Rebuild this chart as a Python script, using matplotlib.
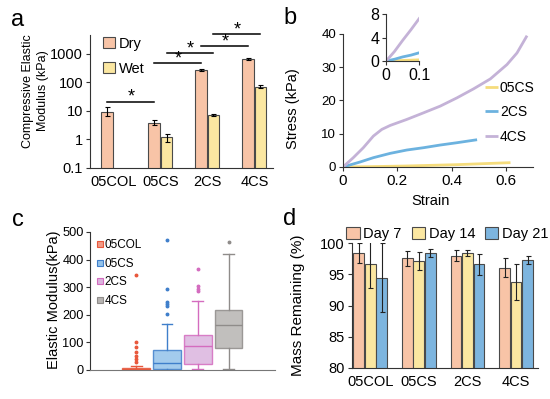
import matplotlib

matplotlib.use("Agg")
import matplotlib.pyplot as plt
import numpy as np
from matplotlib.lines import Line2D
from matplotlib.ticker import FuncFormatter

plt.rcParams["font.family"] = ["Liberation Sans", "DejaVu Sans"]
plt.rcParams["axes.linewidth"] = 0.8

GROUPS = ["05COL", "05CS", "2CS", "4CS"]

# --- panel a: compressive elastic modulus (kPa), log axis ---
DRY_MODULUS = [9.5, 3.9, 280, 680]
DRY_ERR_LO = [2.7, 0.6, 20, 40]
DRY_ERR_HI = [4.0, 0.9, 20, 40]
WET_MODULUS = [np.nan, 1.2, 7.3, 70]
WET_ERR_LO = [0, 0.4, 0.4, 8]
WET_ERR_HI = [0, 0.4, 0.6, 10]
# ((group, series), (group, series), bracket height in kPa); series 0 = dry, 1 = wet
SIG_BRACKETS = [
    ((0, 0), (1, 0), 21),
    ((1, 0), (2, 0), 480),
    ((1, 1), (2, 1), 1080),
    ((2, 0), (3, 0), 1900),
    ((2, 1), (3, 1), 5000),
]

# --- panel b: stress-strain curves ---
STRAIN_05CS = [0, 0.1, 0.235, 0.42, 0.617]
STRESS_05CS = [0, 0.1, 0.3, 0.7, 1.3]
STRAIN_2CS = [0, 0.063, 0.112, 0.174, 0.235, 0.297, 0.358, 0.42, 0.494]
STRESS_2CS = [0, 1.5, 2.8, 4.1, 5.1, 5.8, 6.6, 7.3, 8.2]
STRAIN_4CS = [0, 0.038, 0.075, 0.112, 0.143, 0.174, 0.235, 0.297, 0.358, 0.42,
              0.481, 0.543, 0.604, 0.641, 0.678]
STRESS_4CS = [0, 2.8, 5.8, 9.3, 11.3, 12.5, 14.3, 16.3, 18.3, 20.8,
              23.5, 26.5, 30.8, 34.3, 39.5]
INSET_STRAIN = [0, 0.025, 0.05, 0.075, 0.1]
INSET_05CS = [0, 0.05, 0.1, 0.15, 0.2]
INSET_2CS = [0, 0.3, 0.7, 1.0, 1.4]
INSET_4CS = [0, 1.6, 3.5, 5.3, 7.2]

# --- panel c: elastic modulus distributions (kPa) ---
BOX_Q1 = [0.5, 4, 22, 79]
BOX_MED = [3, 25, 87, 163]
BOX_Q3 = [9, 73, 128, 218]
BOX_WHISLO = [0, 0, 3, 3]
BOX_WHISHI = [16, 167, 249, 419]
BOX_FLIERS = [
    [28, 40, 52, 64, 85, 100, 343],
    [204, 230, 240, 246, 294, 472],
    [286, 295, 304, 364],
    [464],
]

# --- panel d: mass remaining (%) ---
DAY7 = [98.5, 97.6, 98.0, 96.1]
DAY7_ERR = [1.6, 1.2, 0.85, 1.55]
DAY14 = [96.6, 97.2, 98.4, 93.8]
DAY14_ERR = [3.85, 1.45, 0.5, 2.9]
DAY21 = [94.5, 98.4, 96.6, 97.3]
DAY21_ERR = [5.5, 0.65, 1.7, 0.7]

PEACH = "#f8c4a7"
PALE_YELLOW = "#fbe7a1"
SKY = "#7db5df"
EDGE = "#4a4a4a"
BOX_EDGE = ["#e8583c", "#3f7fcb", "#d46cbf", "#8f8c8a"]
BOX_FACE = ["#f29a86", "#93c2ea", "#dbb4de", "#b7b4b2"]


def style_axes(ax):
    for side in ("top", "right"):
        ax.spines[side].set_visible(False)
    for side in ("left", "bottom"):
        ax.spines[side].set_color("#333333")
    ax.tick_params(direction="out", length=3, width=0.8, color="#333333", pad=2)


def plot_modulus(ax):
    x = np.arange(len(GROUPS))
    width, offset = 0.25, 0.13
    err_kw = dict(elinewidth=0.8, capsize=1.8, capthick=0.8, ecolor="black")
    ax.bar(x - offset, DRY_MODULUS, width, color=PEACH, edgecolor=EDGE, linewidth=0.8,
           yerr=[DRY_ERR_LO, DRY_ERR_HI], error_kw=err_kw, label="Dry")
    ax.bar(x + offset, WET_MODULUS, width, color=PALE_YELLOW, edgecolor=EDGE,
           linewidth=0.8, yerr=[WET_ERR_LO, WET_ERR_HI], error_kw=err_kw, label="Wet")
    ax.set_yscale("log")
    ax.set_ylim(0.1, 4600)
    ax.set_xlim(-0.5, 3.4)
    ax.set_yticks([0.1, 1, 10, 100, 1000])
    ax.yaxis.set_major_formatter(FuncFormatter(lambda v, _: f"{v:g}"))
    ax.minorticks_off()
    ax.set_xticks(x)
    ax.set_xticklabels(GROUPS)
    style_axes(ax)
    ax.tick_params(axis="x", length=0, pad=5)
    ax.tick_params(labelsize=10.5)

    for (g1, s1), (g2, s2), height in SIG_BRACKETS:
        x1 = g1 + (offset if s1 else -offset)
        x2 = g2 + (offset if s2 else -offset)
        ax.plot([x1, x2], [height, height], color="black", lw=1.1, clip_on=False)
        ax.annotate("*", ((x1 + x2) / 2, height), xytext=(0, -3),
                    textcoords="offset points", ha="center", va="bottom",
                    fontsize=13, annotation_clip=False)

    ax.set_ylabel("Compressive Elastic\nModulus (kPa)", fontsize=9, linespacing=1.3)
    ax.yaxis.set_label_coords(-0.225, 0.58)
    ax.legend(loc="upper left", bbox_to_anchor=(0.04, 1.03), frameon=False,
              fontsize=10.5, handlelength=0.8, handleheight=0.8, handletextpad=0.3,
              labelspacing=0.75, borderaxespad=0)


def plot_stress_strain(fig, ax):
    curves = [
        ("05CS", STRAIN_05CS, STRESS_05CS, INSET_05CS, "#f5dc7c"),
        ("2CS", STRAIN_2CS, STRESS_2CS, INSET_2CS, "#6cb2df"),
        ("4CS", STRAIN_4CS, STRESS_4CS, INSET_4CS, "#c4b2d7"),
    ]
    for label, strain, stress, _, color in curves:
        ax.plot(strain, stress, color=color, lw=2.0, label=label,
                solid_capstyle="butt", solid_joinstyle="round")
    ax.set_xlim(0, 0.7)
    ax.set_ylim(0, 40)
    ax.set_xticks([0, 0.2, 0.4, 0.6])
    ax.set_yticks([0, 10, 20, 30, 40])
    ax.xaxis.set_major_formatter(FuncFormatter(lambda v, _: f"{v:g}"))
    style_axes(ax)
    ax.tick_params(axis="x", labelsize=11)
    ax.tick_params(axis="y", labelsize=9.5)
    ax.set_ylabel("Stress (kPa)", fontsize=10.5)
    ax.yaxis.set_label_coords(-0.225, 0.44)
    ax.set_xlabel("Strain", fontsize=10.5)
    ax.xaxis.set_label_coords(0.46, -0.2)
    ax.legend(loc="upper left", bbox_to_anchor=(0.72, 0.69), frameon=False,
              fontsize=10, handlelength=0.9, handletextpad=0.15, labelspacing=0.75,
              borderaxespad=0)

    inset = fig.add_axes([0.702, 0.847, 0.06, 0.118])
    for label, _, _, inset_stress, color in curves:
        inset.plot(INSET_STRAIN, inset_stress, color=color, lw=2.0)
    inset.set_xlim(0, 0.1)
    inset.set_ylim(0, 8)
    inset.set_xticks([0, 0.1])
    inset.set_yticks([0, 4, 8])
    inset.xaxis.set_major_formatter(FuncFormatter(lambda v, _: f"{v:g}"))
    inset.patch.set_alpha(0)
    style_axes(inset)
    inset.tick_params(labelsize=11.5)


def plot_boxes(ax):
    stats = []
    for i, name in enumerate(GROUPS):
        stats.append(dict(label=name, q1=BOX_Q1[i], med=BOX_MED[i], q3=BOX_Q3[i],
                          whislo=BOX_WHISLO[i], whishi=BOX_WHISHI[i],
                          fliers=BOX_FLIERS[i]))
    positions = np.arange(1, len(GROUPS) + 1)
    for i, st in enumerate(stats):
        edge, face = BOX_EDGE[i], BOX_FACE[i]
        ax.bxp([st], positions=[positions[i]], widths=0.9, patch_artist=True,
               showfliers=True, capwidths=0.35,
               boxprops=dict(facecolor=face, edgecolor=edge, linewidth=1.0, alpha=0.85),
               medianprops=dict(color=edge, linewidth=1.0),
               whiskerprops=dict(color=edge, linewidth=1.0),
               capprops=dict(color=edge, linewidth=1.0),
               flierprops=dict(marker="o", markersize=1.8, markerfacecolor=edge,
                               markeredgecolor=edge))
    ax.set_xlim(-0.5, 5.5)
    ax.set_ylim(0, 500)
    ax.set_yticks([0, 100, 200, 300, 400, 500])
    ax.set_xticks([])
    style_axes(ax)
    ax.spines["bottom"].set_color("#777777")
    ax.tick_params(labelsize=9.2, pad=1.5)
    ax.set_ylabel("Elastic Modulus(kPa)", fontsize=10.5)
    ax.yaxis.set_label_coords(-0.155, 0.51)

    handles = [Line2D([], [], linestyle="none", marker="s", markersize=4,
                      markerfacecolor=BOX_FACE[i], markeredgecolor=BOX_EDGE[i],
                      markeredgewidth=0.8, label=name)
               for i, name in enumerate(GROUPS)]
    ax.legend(handles=handles, loc="upper left", bbox_to_anchor=(0.01, 0.98),
              frameon=False, fontsize=8.5, handlelength=0.5, handletextpad=0.2,
              labelspacing=0.55, borderaxespad=0)


def plot_mass(ax):
    x = np.arange(len(GROUPS))
    width, offset = 0.22, 0.235
    err_kw = dict(elinewidth=0.8, capsize=1.8, capthick=0.8, ecolor="#222222")
    series = [("Day 7", DAY7, DAY7_ERR, PEACH), ("Day 14", DAY14, DAY14_ERR, PALE_YELLOW),
              ("Day 21", DAY21, DAY21_ERR, SKY)]
    for k, (label, values, errs, color) in enumerate(series):
        ax.bar(x + (k - 1) * offset, values, width, color=color, edgecolor=EDGE,
               linewidth=0.8, yerr=errs, error_kw=err_kw, label=label)
    ax.set_ylim(80, 100)
    ax.set_xlim(-0.38, 3.45)
    ax.set_yticks([80, 85, 90, 95, 100])
    ax.set_xticks(x)
    ax.set_xticklabels(GROUPS)
    style_axes(ax)
    ax.tick_params(axis="x", length=0, pad=5)
    ax.tick_params(labelsize=10.5)
    ax.set_ylabel("Mass Remaining (%)", fontsize=11)
    ax.yaxis.set_label_coords(-0.25, 0.5)
    ax.legend(loc="lower left", bbox_to_anchor=(-0.06, 0.97), ncol=3, frameon=False,
              fontsize=10.5, handlelength=0.9, handleheight=0.9, handletextpad=0.25,
              columnspacing=0.7, borderaxespad=0)


def main():
    fig = plt.figure(figsize=(5.5, 3.99), dpi=100)
    ax_a = fig.add_axes([0.1636, 0.579, 0.333, 0.333])
    ax_b = fig.add_axes([0.6236, 0.5815, 0.3455, 0.3333])
    ax_c = fig.add_axes([0.1636, 0.0727, 0.336, 0.346])
    ax_d = fig.add_axes([0.6395, 0.0784, 0.3387, 0.3118])

    plot_modulus(ax_a)
    plot_stress_strain(fig, ax_b)
    plot_boxes(ax_c)
    plot_mass(ax_d)

    for letter, (px, py) in {"a": (18, 20), "b": (290, 18),
                             "c": (18, 220), "d": (290, 219)}.items():
        fig.text(px / 550, 1 - py / 399, letter, fontsize=17, ha="center", va="center")

    fig.savefig("out.png", dpi=100)
    plt.close(fig)


if __name__ == "__main__":
    main()
